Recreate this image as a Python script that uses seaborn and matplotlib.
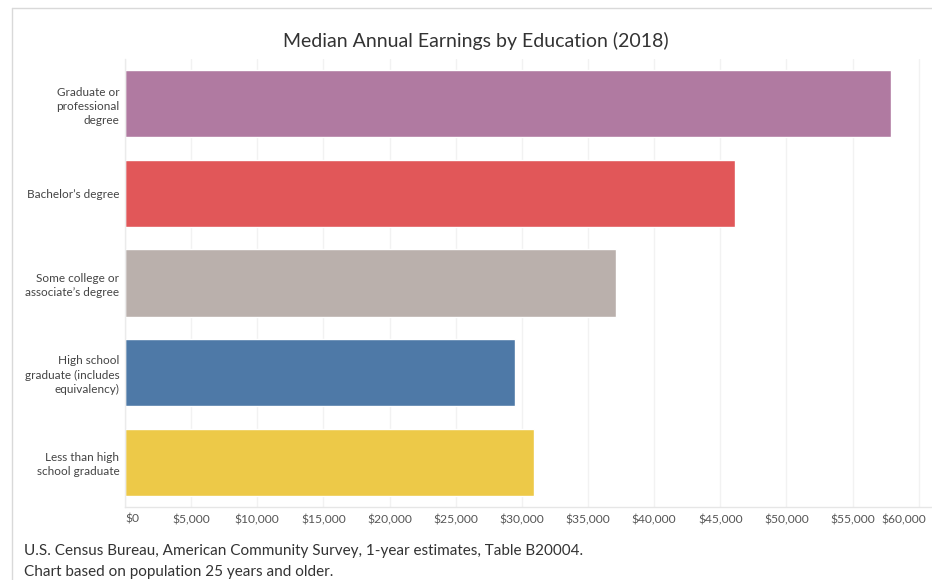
import matplotlib
matplotlib.use("Agg")
import matplotlib.pyplot as plt
import matplotlib.transforms as mtransforms
import seaborn as sns
import pandas as pd
from matplotlib.ticker import MultipleLocator, FuncFormatter
from matplotlib.lines import Line2D

categories = [
    "Graduate or\nprofessional\ndegree",
    "Bachelor\u2019s degree",
    "Some college or\nassociate\u2019s degree",
    "High school\ngraduate (includes\nequivalency)",
    "Less than high\nschool graduate",
]
earnings = [57900, 46100, 37100, 29500, 30900]
colors = ["#B07AA1", "#E15759", "#BAB0AC", "#4E79A7", "#EDC948"]
title = "Median Annual Earnings by Education (2018)"
note_lines = [
    "U.S. Census Bureau, American Community Survey, 1-year estimates, Table B20004.",
    "Chart based on population 25 years and older.",
]

sns.set_theme(style="white")
plt.rcParams["font.family"] = ["Lato", "DejaVu Sans"]

df = pd.DataFrame({"cat": categories, "val": earnings})

W, H = 932, 580
fig = plt.figure(figsize=(W / 100, H / 100), dpi=100)
ax = fig.add_axes([125 / W, 1 - 507 / H, (932 - 125) / W, (507 - 59) / H])

sns.barplot(data=df, y="cat", x="val", hue="cat", palette=colors,
            order=categories, hue_order=categories, width=0.75,
            legend=False, ax=ax, orient="h", saturation=1)

ax.set_xlim(0, 61000)
ax.xaxis.set_major_locator(MultipleLocator(5000))
ax.xaxis.set_major_formatter(FuncFormatter(lambda v, p: f"${v:,.0f}"))
ax.grid(axis="x", color="#f2f2f2", linewidth=1)
ax.set_axisbelow(True)
ax.set_xlabel("")
ax.set_ylabel("")
for s in ["top", "right"]:
    ax.spines[s].set_visible(False)
ax.spines["bottom"].set_color("#e6e6e6")
ax.spines["left"].set_color("#ebebeb")
ax.spines["bottom"].set_linewidth(1)
ax.spines["left"].set_linewidth(1)
ax.tick_params(axis="x", length=0, pad=5, labelsize=8.7, labelcolor="#555555")
ax.tick_params(axis="y", length=0, pad=4, labelsize=8.5, labelcolor="#444444")
for lab in ax.get_yticklabels():
    lab.set_linespacing(1.35)
    lab.set_multialignment("right")

fig.canvas.draw()
for tick in ax.xaxis.get_major_ticks():
    loc = tick.get_loc()
    shift = 0
    if abs(loc - 0) < 1:
        shift = 7
    elif abs(loc - 60000) < 1:
        shift = -15
    if shift:
        off = mtransforms.ScaledTranslation(shift / 100, 0, fig.dpi_scale_trans)
        tick.label1.set_transform(tick.label1.get_transform() + off)

fig.text(476 / W, 1 - 41 / H, title, ha="center", va="center",
         fontsize=14, color="#333333")
fig.text(24 / W, 1 - 551 / H, note_lines[0], ha="left", va="center",
         fontsize=11, color="#333333")
fig.text(24 / W, 1 - 572 / H, note_lines[1], ha="left", va="center",
         fontsize=11, color="#333333")

# sheet border (top and left)
fig.add_artist(Line2D([12 / W, 1.0], [1 - 8 / H, 1 - 8 / H], transform=fig.transFigure,
                      color="#d9d9d9", linewidth=1))
fig.add_artist(Line2D([12 / W, 12 / W], [0.0, 1 - 8 / H], transform=fig.transFigure,
                      color="#d9d9d9", linewidth=1))

fig.savefig("out.png", dpi=100)
